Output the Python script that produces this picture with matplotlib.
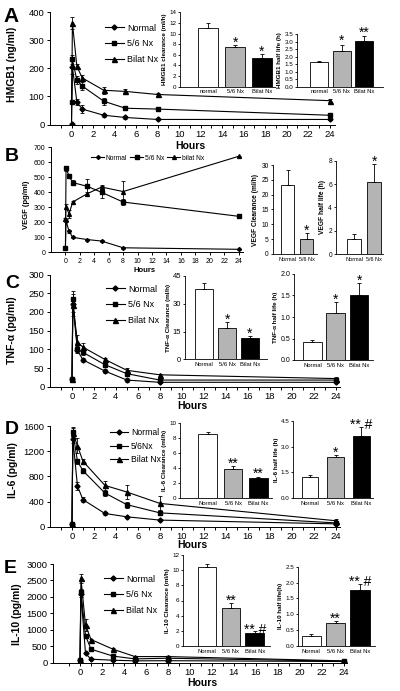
import numpy as np
import matplotlib
matplotlib.use("Agg")
import matplotlib.pyplot as plt

plt.rcParams["font.family"] = ["Liberation Sans", "DejaVu Sans"]

W, H = 400, 691

# ---- time-course data (hours) ----
hours = [0, 0.083, 0.5, 1, 3, 5, 8, 24]

hmgb1_normal = [3, 205, 80, 55, 33, 25, 18, 18]
hmgb1_normal_err = [0, 25, 10, 15, 5, 4, 3, 3]
hmgb1_56nx = [80, 232, 158, 137, 83, 58, 55, 33]
hmgb1_56nx_err = [0, 15, 15, 15, 12, 6, 5, 4]
hmgb1_bilat = [3, 362, 207, 166, 122, 118, 107, 85]
hmgb1_bilat_err = [0, 22, 10, 12, 12, 10, 5, 5]

vegf_normal = [30, 210, 140, 100, 85, 75, 30, 20]
vegf_normal_err = [5, 10, 8, 5, 5, 5, 5, 3]
vegf_56nx = [30, 560, 510, 465, 440, 400, 335, 240]
vegf_56nx_err = [5, 15, 15, 15, 50, 40, 20, 10]
vegf_bilat = [220, 305, 255, 335, 390, 435, 405, 640]
vegf_bilat_err = [10, 15, 25, 10, 15, 15, 70, 5]

tnf_normal = [20, 220, 97, 72, 42, 18, 12, 12]
tnf_normal_err = [2, 20, 6, 6, 6, 6, 3, 3]
tnf_56nx = [20, 235, 100, 92, 59, 35, 18, 18]
tnf_56nx_err = [2, 20, 8, 6, 6, 5, 3, 3]
tnf_bilat = [20, 219, 119, 106, 73, 44, 32, 22]
tnf_bilat_err = [2, 30, 20, 10, 5, 5, 3, 3]

il6_normal = [40, 1390, 645, 430, 210, 157, 105, 45]
il6_normal_err = [5, 60, 60, 40, 20, 20, 10, 5]
il6_56nx = [40, 1500, 1040, 890, 535, 350, 220, 60]
il6_56nx_err = [5, 80, 40, 40, 40, 50, 40, 10]
il6_bilat = [40, 1490, 1285, 1040, 656, 551, 370, 95]
il6_bilat_err = [5, 80, 120, 40, 70, 110, 120, 20]

il10_normal = [70, 2100, 275, 100, 70, 50, 55, 30]
il10_normal_err = [5, 100, 30, 10, 10, 5, 5, 5]
il10_56nx = [70, 2150, 815, 405, 195, 110, 130, 40]
il10_56nx_err = [5, 100, 50, 30, 20, 10, 10, 5]
il10_bilat = [70, 2560, 1140, 700, 405, 180, 180, 50]
il10_bilat_err = [5, 150, 180, 30, 30, 20, 20, 5]

# ---- bar insets ----
grp3 = ["Normal", "5/6 Nx", "Bilat Nx"]
grp3_a = ["normal", "5/6 Nx", "Bilat Nx"]
grp2 = ["Normal", "5/6 Nx"]

hmgb1_clear = [11.0, 7.4, 5.4]
hmgb1_clear_err = [1.0, 0.4, 0.7]
hmgb1_clear_sig = ["", "*", "*"]
hmgb1_half = [1.65, 2.4, 3.05]
hmgb1_half_err = [0.05, 0.4, 0.3]
hmgb1_half_sig = ["", "*", "**"]

vegf_clear = [23.2, 5.0]
vegf_clear_err = [5.0, 2.2]
vegf_clear_sig = ["", "*"]
vegf_half = [1.35, 6.15]
vegf_half_err = [0.35, 1.6]
vegf_half_sig = ["", "*"]

tnf_clear = [38, 17, 11.5]
tnf_clear_err = [3, 3, 1.2]
tnf_clear_sig = ["", "*", "*"]
tnf_half = [0.43, 1.1, 1.5]
tnf_half_err = [0.03, 0.25, 0.3]
tnf_half_sig = ["", "*", "*"]

il6_clear = [8.6, 3.9, 2.7]
il6_clear_err = [0.3, 0.4, 0.2]
il6_clear_sig = ["", "**", "**"]
il6_half = [1.22, 2.42, 3.6]
il6_half_err = [0.15, 0.1, 0.55]
il6_half_sig = ["", "*", "** #"]

il10_clear = [10.4, 5.0, 1.65]
il10_clear_err = [0.4, 0.7, 0.3]
il10_clear_sig = ["", "**", "** #"]
il10_half = [0.33, 0.72, 1.78]
il10_half_err = [0.04, 0.08, 0.18]
il10_half_sig = ["", "**", "** #"]

bar_colors = ["white", "#b4b4b4", "black"]

fig = plt.figure(figsize=(W / 100, H / 100), dpi=100)


def px_axes(l, t, r, b):
    return fig.add_axes([l / W, 1 - b / H, (r - l) / W, (b - t) / H])


def ftext(x, y, s, **kw):
    fig.text(x / W, 1 - y / H, s, **kw)


def time_panel(rect, xlim, ylim, yticks, series, labels, fs=6.8, small=False):
    ax = px_axes(*rect)
    markers = ["D", "s", "^"]
    msz = [2.6, 3.2, 3.6] if not small else [2.0, 2.4, 2.8]
    for (y, e), lab, m, s in zip(series, labels, markers, msz):
        ax.errorbar(hours, y, yerr=e, fmt="none", ecolor="black",
                    elinewidth=0.6, capsize=1.5, capthick=0.6)
        ax.plot(hours, y, "-", color="black", lw=0.8, marker=m, ms=s, label=lab)
    ax.set_xlim(*xlim)
    ax.set_ylim(*ylim)
    ax.set_yticks(yticks)
    ax.set_xticks(range(0, 25, 2))
    if not small:
        ax.set_xticks(range(-1, 25, 2), minor=True)
    for sp in ["top", "right"]:
        ax.spines[sp].set_visible(False)
    for sp in ["left", "bottom"]:
        ax.spines[sp].set_linewidth(0.7)
    ax.tick_params(which="both", direction="out", length=2.5, width=0.7,
                   labelsize=fs, pad=1.5)
    ax.tick_params(which="minor", length=2.5)
    ax.patch.set_alpha(0)
    return ax


def bar_inset(rect, xlim, width, vals, errs, sig, names, ylim, yticks, ylabel,
              fmt=None, tfs=4.5, lfs=4.5, xfs=4.2, sfs=10):
    ax = px_axes(*rect)
    x = np.arange(len(vals))
    ax.bar(x, vals, width=width, color=bar_colors[:len(vals)],
           edgecolor="black", linewidth=0.6, zorder=2)
    ax.errorbar(x, vals, yerr=[np.zeros(len(vals)), errs], fmt="none",
                ecolor="black", elinewidth=0.6, capsize=1.6, capthick=0.6, zorder=3)
    span = ylim[1] - ylim[0]
    for xi, v, e, s in zip(x, vals, errs, sig):
        if s:
            ax.text(xi, v + e - 0.06 * span, s, ha="center", va="bottom",
                    fontsize=sfs)
    ax.set_xlim(*xlim)
    ax.set_ylim(*ylim)
    ax.set_yticks(yticks)
    if fmt:
        ax.set_yticklabels([fmt.format(v) for v in yticks])
    ax.set_xticks(x)
    ax.set_xticklabels(names, fontsize=xfs)
    for sp in ["top", "right"]:
        ax.spines[sp].set_visible(False)
    for sp in ["left", "bottom"]:
        ax.spines[sp].set_linewidth(0.6)
    ax.tick_params(axis="y", direction="out", length=1.8, width=0.6,
                   labelsize=tfs, pad=1)
    ax.tick_params(axis="x", length=0, pad=2)
    ax.set_ylabel(ylabel, fontsize=lfs, fontweight="bold", labelpad=1.5)
    ax.patch.set_alpha(0)
    return ax


# ---------------- A: HMGB1 ----------------
ax = time_panel((50, 12.3, 335, 124.5), (-2, 24.5), (0, 400), range(0, 401, 100),
                [(hmgb1_normal, hmgb1_normal_err), (hmgb1_56nx, hmgb1_56nx_err),
                 (hmgb1_bilat, hmgb1_bilat_err)], ["Normal", "5/6 Nx", "Bilat Nx"])
ax.legend(loc="upper left", bbox_to_anchor=(100 / W, 1 - 19 / H),
          bbox_transform=fig.transFigure, frameon=False, fontsize=6.5,
          handlelength=2.2, handletextpad=0.3, labelspacing=0.75, borderpad=0)
bar_inset((180, 12.3, 275, 86.7), (-1.07, 2.5), 0.75, hmgb1_clear, hmgb1_clear_err,
          hmgb1_clear_sig, grp3_a, (0, 14), range(0, 15, 2), "HMGB1 clearance (ml/h)")
bar_inset((297, 34, 383, 86.7), (-0.98, 2.84), 0.8, hmgb1_half, hmgb1_half_err,
          hmgb1_half_sig, grp3_a, (0, 3.5), np.arange(0, 3.51, 0.5), "HMGB1 half life (h)",
          fmt="{:.1f}")
ftext(3, 21.7, "A", fontsize=15, fontweight="bold", va="baseline")
ftext(12, 64, "HMGB1 (ng/ml)", fontsize=7.5, fontweight="bold", rotation=90,
      ha="center", va="center")
ftext(190, 146, "Hours", fontsize=7.5, fontweight="bold", ha="center", va="center")

# ---------------- B: VEGF ----------------
ax = time_panel((51, 147.3, 243, 252.3), (-2, 24.6), (0, 700), range(0, 701, 100),
                [(vegf_normal, vegf_normal_err), (vegf_56nx, vegf_56nx_err),
                 (vegf_bilat, vegf_bilat_err)], ["Normal", "5/6 Nx", "bilat Nx"],
                fs=5, small=True)
ax.legend(loc="center left", bbox_to_anchor=(88 / W, 1 - 158 / H),
          bbox_transform=fig.transFigure, frameon=False, fontsize=4.8, ncol=3,
          handlelength=1.9, handletextpad=0.25, columnspacing=0.5, borderpad=0)
bar_inset((272.7, 165, 316.7, 254), (-0.79, 1.53), 0.71, vegf_clear, vegf_clear_err,
          vegf_clear_sig, grp2, (0, 30), range(0, 31, 5), "VEGF Clearance (ml/h)",
          tfs=4.8, lfs=4.8, xfs=4.0)
bar_inset((336, 160.7, 383, 254.3), (-0.91, 1.44), 0.69, vegf_half, vegf_half_err,
          vegf_half_sig, grp2, (0, 8), range(0, 9, 2), "VEGF half life (h)",
          tfs=4.8, lfs=4.8, xfs=4.0)
ftext(5, 161, "B", fontsize=14, fontweight="bold", va="baseline")
ftext(27, 205, "VEGF (pg/ml)", fontsize=5.5, fontweight="bold", rotation=90,
      ha="center", va="center")
ftext(145, 271, "Hours", fontsize=5.5, fontweight="bold", ha="center", va="center")

# ---------------- C: TNF-alpha ----------------
ax = time_panel((50, 274.5, 340, 386.8), (-2, 24.4), (0, 300), range(0, 301, 50),
                [(tnf_normal, tnf_normal_err), (tnf_56nx, tnf_56nx_err),
                 (tnf_bilat, tnf_bilat_err)], ["Normal", "5/6 Nx", "Bilat Nx"])
ax.legend(loc="upper left", bbox_to_anchor=(101 / W, 1 - 280 / H),
          bbox_transform=fig.transFigure, frameon=False, fontsize=6.5,
          handlelength=2.2, handletextpad=0.3, labelspacing=0.75, borderpad=0)
bar_inset((185, 276, 267, 359.3), (-0.83, 2.74), 0.78, tnf_clear, tnf_clear_err,
          tnf_clear_sig, grp3, (0, 45), range(0, 46, 15), "TNF-α Clearance (ml/h)",
          tfs=5.5)
bar_inset((294, 274, 373, 360), (-0.79, 2.6), 0.8, tnf_half, tnf_half_err,
          tnf_half_sig, grp3, (0, 2.0), np.arange(0, 2.01, 0.5), "TNF-α half life (h)",
          fmt="{:.1f}", tfs=5)
ftext(5, 288, "C", fontsize=14, fontweight="bold", va="baseline")
ftext(12, 330, "TNF-α (pg/ml)", fontsize=7.5, fontweight="bold", rotation=90,
      ha="center", va="center")
ftext(192, 406, "Hours", fontsize=7.5, fontweight="bold", ha="center", va="center")

# ---------------- D: IL-6 ----------------
ax = time_panel((50, 426, 340, 526.7), (-2, 24.4), (0, 1600), range(0, 1601, 400),
                [(il6_normal, il6_normal_err), (il6_56nx, il6_56nx_err),
                 (il6_bilat, il6_bilat_err)], ["Normal", "5/6Nx", "Bilat Nx"])
ax.legend(loc="upper left", bbox_to_anchor=(106 / W, 1 - 424 / H),
          bbox_transform=fig.transFigure, frameon=False, fontsize=6.2,
          handlelength=2.1, handletextpad=0.3, labelspacing=0.5, borderpad=0)
bar_inset((180, 423.3, 272, 498.3), (-1.08, 2.53), 0.72, il6_clear, il6_clear_err,
          il6_clear_sig, grp3, (0, 10), range(0, 11, 2), "IL-6 Clearance (ml/h)")
bar_inset((293.3, 421, 373, 498), (-0.65, 2.45), 0.66, il6_half, il6_half_err,
          il6_half_sig, grp3, (0, 4.5), np.arange(0, 4.51, 1.5), "IL-6 half life (h)",
          fmt="{:.1f}")
ftext(5, 434, "D", fontsize=14, fontweight="bold", va="baseline")
ftext(12.5, 470, "IL-6 (pg/ml)", fontsize=7.5, fontweight="bold", rotation=90,
      ha="center", va="center")
ftext(192, 545, "Hours", fontsize=7.5, fontweight="bold", ha="center", va="center")

# ---------------- E: IL-10 ----------------
ax = time_panel((53, 564, 347, 662.5), (-2.46, 24.3), (0, 3000), range(0, 3001, 500),
                [(il10_normal, il10_normal_err), (il10_56nx, il10_56nx_err),
                 (il10_bilat, il10_bilat_err)], ["Normal", "5/6 Nx", "Bilat Nx"])
ax.legend(loc="upper left", bbox_to_anchor=(99 / W, 1 - 570 / H),
          bbox_transform=fig.transFigure, frameon=False, fontsize=6.5,
          handlelength=2.2, handletextpad=0.3, labelspacing=0.75, borderpad=0)
bar_inset((183.3, 555, 270, 646), (-0.99, 2.63), 0.79, il10_clear, il10_clear_err,
          il10_clear_sig, grp3, (0, 12), range(0, 13, 2), "IL-10 Clearance (ml/h)")
bar_inset((298, 566.7, 375, 646), (-0.54, 2.62), 0.79, il10_half, il10_half_err,
          il10_half_sig, grp3, (0, 2.5), np.arange(0, 2.51, 0.5), "IL-10 half life(h)",
          fmt="{:.1f}")
ftext(4, 573, "E", fontsize=14, fontweight="bold", va="baseline")
ftext(17, 614, "IL-10 (pg/ml)", fontsize=7.5, fontweight="bold", rotation=90,
      ha="center", va="center")
ftext(202, 683, "Hours", fontsize=7.5, fontweight="bold", ha="center", va="center")

fig.savefig("out.png", dpi=100)
